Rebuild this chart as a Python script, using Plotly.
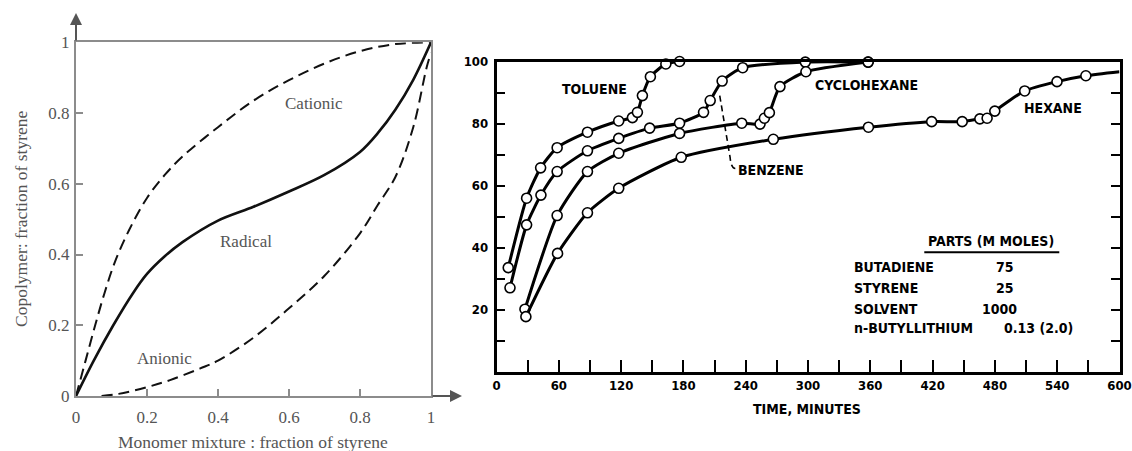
import plotly.graph_objects as go

W, H = 1132, 451

# ---------------- Left panel data (copolymer composition) ----------------
radical_x = [0, 0.05, 0.105, 0.16, 0.2, 0.25, 0.3, 0.4, 0.5, 0.6, 0.7, 0.8, 0.85, 0.9, 0.95, 1.0]
radical_y = [0, 0.1, 0.2, 0.29, 0.345, 0.395, 0.435, 0.496, 0.535, 0.578, 0.625, 0.69, 0.743, 0.81, 0.894, 1.0]

cationic_x = [0, 0.027, 0.054, 0.08, 0.11, 0.15, 0.2, 0.25, 0.3, 0.4, 0.5, 0.6, 0.7, 0.8, 0.9, 1.0]
cationic_y = [0, 0.1, 0.2, 0.29, 0.38, 0.47, 0.56, 0.625, 0.677, 0.76, 0.835, 0.893, 0.94, 0.975, 0.995, 1.0]

anionic_x = [0.072, 0.12, 0.2, 0.265, 0.35, 0.4, 0.5, 0.6, 0.7, 0.8, 0.85, 0.9, 0.95, 0.988, 1.0]
anionic_y = [0, 0.006, 0.025, 0.045, 0.078, 0.10, 0.165, 0.248, 0.34, 0.46, 0.54, 0.62, 0.76, 0.93, 0.97]

left_ticks = [0, 0.2, 0.4, 0.6, 0.8, 1]

# ---------------- Right panel data (conversion vs time) ----------------
toluene_t = [11.3, 29.0, 42.5, 58.4, 87.6, 117.7, 130.9, 135.7, 140.5, 148.2, 163.1, 176.3]
toluene_y = [33.5, 55.9, 65.7, 72.2, 77.2, 80.8, 81.9, 83.6, 89.0, 95.1, 99.2, 100.0]

benzene_t = [13.0, 29.0, 42.8, 58.4, 87.6, 117.7, 147.5, 176.3, 199.4, 205.8, 217.3, 237.1, 297.4, 357.9]
benzene_y = [27.0, 47.3, 56.9, 64.5, 71.2, 75.2, 78.5, 80.1, 83.6, 87.4, 93.7, 98.0, 99.8, 99.8]

cyclohexane_t = [27.4, 58.4, 87.6, 117.7, 176.3, 236.2, 253.8, 258.0, 262.8, 273.0, 298.0, 357.9]
cyclohexane_y = [20.1, 50.3, 64.5, 70.4, 76.8, 80.1, 79.8, 81.7, 83.5, 91.9, 96.7, 99.8]

hexane_t = [28.3, 58.8, 87.6, 117.7, 177.9, 266.6, 358.2, 419.1, 448.5, 465.5, 472.5, 479.9, 508.7, 539.8, 567.6, 600]
hexane_y = [17.7, 38.1, 51.2, 59.1, 69.1, 74.9, 78.8, 80.6, 80.6, 81.5, 81.7, 84.0, 90.5, 93.5, 95.4, 96.7]
hexane_marker = [10] * 15 + [0]

time_ticks = list(range(0, 601, 60))
time_minor = list(range(30, 600, 60))
conv_ticks = [20, 40, 60, 80, 100]
conv_minor = [10, 30, 50, 70, 90]

recipe_names = ["BUTADIENE", "STYRENE", "SOLVENT", "n-BUTYLLITHIUM"]
recipe_values = ["75", "25", "1000", "0.13 (2.0)"]

# ---------------- styling ----------------
SERIF = "Liberation Serif, Times New Roman, serif"
COND = "DejaVu Sans Condensed, DejaVu Sans, sans-serif"
GREY_TXT = "#555555"
GREY_AX = "#8c8c8c"

fig = go.Figure()

fig.add_trace(go.Scatter(x=cationic_x, y=cationic_y, mode="lines",
                         line=dict(color="#111111", width=2, dash="11px,6px", shape="spline", smoothing=1.0),
                         xaxis="x", yaxis="y", hoverinfo="skip"))
fig.add_trace(go.Scatter(x=radical_x, y=radical_y, mode="lines",
                         line=dict(color="#111111", width=2.6, shape="spline", smoothing=0.9),
                         xaxis="x", yaxis="y", hoverinfo="skip"))
fig.add_trace(go.Scatter(x=anionic_x, y=anionic_y, mode="lines",
                         line=dict(color="#111111", width=2, dash="11px,6px", shape="spline", smoothing=1.0),
                         xaxis="x", yaxis="y", hoverinfo="skip"))

for tt, yy, ms in [(toluene_t, toluene_y, 10), (benzene_t, benzene_y, 10),
                   (cyclohexane_t, cyclohexane_y, 10), (hexane_t, hexane_y, hexane_marker)]:
    fig.add_trace(go.Scatter(x=tt, y=yy, mode="lines+markers",
                             line=dict(color="black", width=3, shape="spline", smoothing=0.6),
                             marker=dict(symbol="circle", color="white", size=ms, opacity=1,
                                         line=dict(color="black", width=1.6)),
                             xaxis="x2", yaxis="y2", hoverinfo="skip", cliponaxis=False))

X2_LEFT, X2_RIGHT = 496.5, 1119.5

fig.update_layout(
    xaxis=dict(domain=[76 / W, 431 / W], range=[0, 1], tickvals=left_ticks, ticks="inside",
               ticklen=7, tickwidth=2, tickcolor=GREY_AX, showline=True, mirror=True,
               linecolor=GREY_AX, linewidth=2, showgrid=False, zeroline=False, automargin=False,
               ticklabelstandoff=5,
               tickfont=dict(family=SERIF, size=17, color=GREY_TXT), anchor="y"),
    yaxis=dict(domain=[1 - 396 / H, 1 - 42.3 / H], range=[0, 1], tickvals=left_ticks, ticks="inside",
               ticklen=7, tickwidth=2, tickcolor=GREY_AX, showline=True, mirror=True,
               linecolor=GREY_AX, linewidth=2, showgrid=False, zeroline=False, automargin=False,
               ticklabelstandoff=1,
               tickfont=dict(family=SERIF, size=17, color=GREY_TXT), anchor="x"),
    xaxis2=dict(domain=[X2_LEFT / W, X2_RIGHT / W], range=[0, 600], tickvals=time_ticks, ticks="inside",
                ticklen=12, tickwidth=2, tickcolor="black", showline=True, mirror=True,
                linecolor="black", linewidth=2.5, showgrid=False, zeroline=False, automargin=False,
                ticklabeloverflow="allow",
                minor=dict(tickmode="array", tickvals=time_minor, ticks="inside", ticklen=12,
                           tickwidth=2, tickcolor="black", showgrid=False),
                tickfont=dict(family=COND, size=13, color="black", weight="bold"), anchor="y2"),
    yaxis2=dict(domain=[1 - 371.5 / H, 1 - 61.5 / H], range=[0, 100], tickvals=conv_ticks, ticks="inside",
                ticklen=9, tickwidth=2, tickcolor="black", showline=True, mirror="ticks",
                linecolor="black", linewidth=2.5, showgrid=False, zeroline=False, automargin=False,
                ticklabelstandoff=3,
                minor=dict(tickmode="array", tickvals=conv_minor, ticks="inside", ticklen=9,
                           tickwidth=2, tickcolor="black", showgrid=False),
                tickfont=dict(family=COND, size=13, color="black", weight="bold"), anchor="x2"),
    width=W, height=H, margin=dict(l=0, r=0, t=0, b=0, autoexpand=False),
    paper_bgcolor="white", plot_bgcolor="white", showlegend=False,
)

ann = []
# Left panel arrows (axis extensions)
ann.append(dict(xref="paper", yref="paper", x=462 / W, y=1 - 396 / H, ax=-31, ay=0, showarrow=True,
                arrowhead=2, arrowsize=1.2, arrowwidth=2, arrowcolor="#555555", text=""))
ann.append(dict(xref="paper", yref="paper", x=76 / W, y=1 - 13 / H, ax=0, ay=29, showarrow=True,
                arrowhead=2, arrowsize=1.2, arrowwidth=2, arrowcolor="#555555", text=""))
# Left panel axis titles
ann.append(dict(xref="paper", yref="paper", x=253 / W, y=1 - 441.5 / H, xanchor="center", yanchor="middle",
                text="Monomer mixture : fraction of styrene", showarrow=False,
                font=dict(family=SERIF, size=17.5, color=GREY_TXT)))
ann.append(dict(xref="paper", yref="paper", x=21 / W, y=1 - 219 / H, xanchor="center", yanchor="middle",
                text="Copolymer: fraction of styrene", showarrow=False, textangle=-90,
                font=dict(family=SERIF, size=17.5, color=GREY_TXT)))
# Left panel curve labels
for txt, x, y in [("Cationic", 0.67, 0.826), ("Radical", 0.48, 0.437), ("Anionic", 0.25, 0.105)]:
    ann.append(dict(xref="x", yref="y", x=x, y=y, text=txt, showarrow=False,
                    font=dict(family=SERIF, size=17, color=GREY_TXT)))

# Right panel labels
RF = dict(family=COND, size=14, color="black", weight="bold")
ann.append(dict(xref="x2", yref="y2", x=94.6, y=91.0, text="TOLUENE", showarrow=False, font=RF))
ann.append(dict(xref="x2", yref="y2", x=231, y=65.0, text="BENZENE", showarrow=False, font=RF, xanchor="left"))
ann.append(dict(xref="x2", yref="y2", x=356.5, y=92.4, text="CYCLOHEXANE", showarrow=False, font=RF))
ann.append(dict(xref="x2", yref="y2", x=535.5, y=84.9, text="HEXANE", showarrow=False, font=RF))
ann.append(dict(xref="x2", yref="y2", x=476.7, y=42.0, text="PARTS (M MOLES)", showarrow=False, font=RF))
row_y = [33.8, 26.8, 20.2, 14.1]
val_x = [490, 490, 484.5, 522]
for name, val, yy, vx in zip(recipe_names, recipe_values, row_y, val_x):
    ann.append(dict(xref="x2", yref="y2", x=342, y=yy, text=name, showarrow=False, font=RF, xanchor="left"))
    ann.append(dict(xref="x2", yref="y2", x=vx, y=yy, text=val, showarrow=False, font=RF))
ann.append(dict(xref="paper", yref="paper", x=807 / W, y=1 - 409 / H, xanchor="center", yanchor="middle",
                text="TIME, MINUTES", showarrow=False, font=RF))
fig.update_layout(annotations=ann)

# underline for PARTS header and benzene leader
fig.add_shape(type="line", xref="x2", yref="y2", x0=412, x1=542, y0=38.5, y1=38.5,
              line=dict(color="black", width=2))
fig.add_shape(type="path", xref="x2", yref="y2",
              path="M 215,89 L 225,69 Q 226,65.5 230,65.5",
              line=dict(color="black", width=1.6, dash="6px,4px"))

fig.write_html("out.html", config={"displayModeBar": False},
               post_script="document.documentElement.style.margin='0';"
                           "document.body.style.margin='0';document.body.style.overflow='hidden';")
